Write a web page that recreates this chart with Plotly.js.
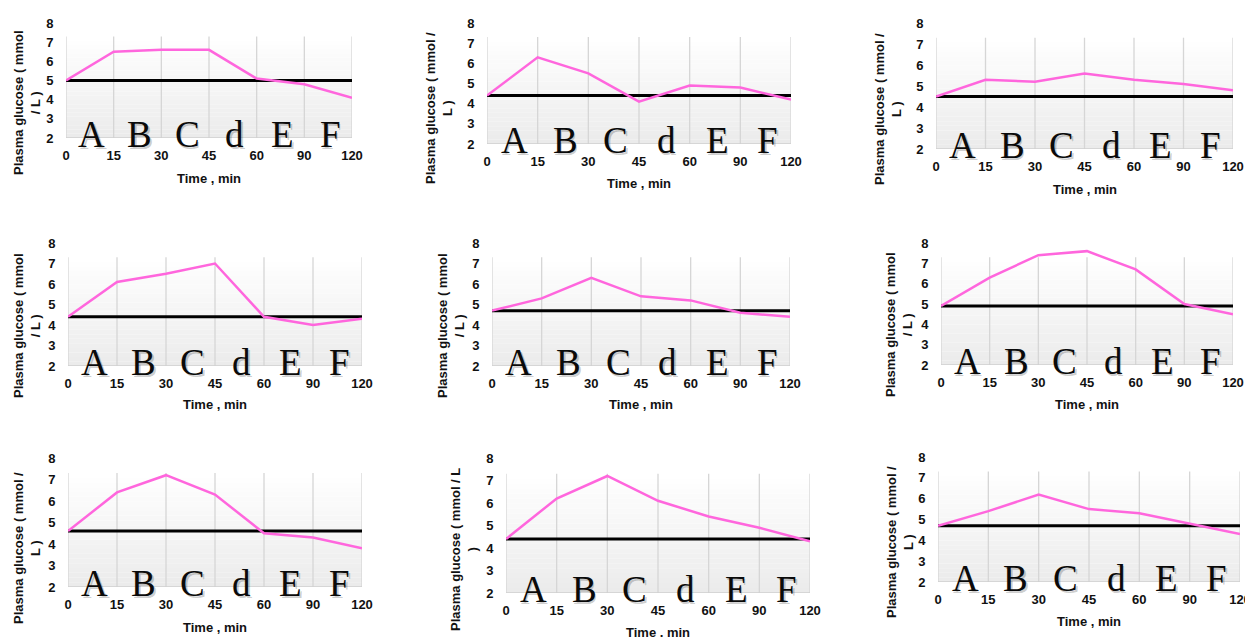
<!DOCTYPE html>
<html>
<head>
<meta charset="utf-8">
<script src="https://cdn.plot.ly/plotly-3.0.1.min.js"></script>
<style>html,body{margin:0;padding:0;background:#fff;}#chart{width:1245px;height:637px;}</style>
</head>
<body>
<div id="chart"></div>
<script>
// ---- data ----
const times = ['0', '15', '30', '45', '60', '90', '120'];
const letters = ['A', 'B', 'C', 'd', 'E', 'F'];
const glucose1 = [5.0, 6.5, 6.6, 6.6, 5.1, 4.8, 4.1];
const glucose2 = [4.4, 6.3, 5.5, 4.1, 4.9, 4.8, 4.2];
const glucose3 = [4.5, 5.3, 5.2, 5.6, 5.3, 5.1, 4.8];
const glucose4 = [4.4, 6.1, 6.5, 7.0, 4.4, 4.0, 4.3];
const glucose5 = [4.7, 5.3, 6.3, 5.4, 5.2, 4.6, 4.4];
const glucose6 = [4.9, 6.3, 7.4, 7.6, 6.7, 5.0, 4.5];
const glucose7 = [4.6, 6.4, 7.2, 6.3, 4.5, 4.3, 3.8];
const glucose8 = [4.4, 6.2, 7.2, 6.1, 5.4, 4.9, 4.3];
const glucose9 = [4.7, 5.4, 6.2, 5.5, 5.3, 4.8, 4.3];
const series = [glucose1, glucose2, glucose3, glucose4, glucose5, glucose6, glucose7, glucose8, glucose9];
const yTitles = [
  'Plasma glucose ( mmol<br>/ L )',
  'Plasma glucose ( mmol /<br>L )',
  'Plasma glucose ( mmol /<br>L )',
  'Plasma glucose ( mmol<br>/ L )',
  'Plasma glucose ( mmol<br>/ L )',
  'Plasma glucose ( mmol<br>/ L )',
  'Plasma glucose ( mmol /<br>L )',
  'Plasma glucose ( mmol / L<br>)',
  'Plasma glucose ( mmol /<br>L )'
];
const xTitle = 'Time , min';

// ---- layout geometry (pixels): left, right, top(y=8), bottom(y=2), yTitleX, yTitleY, xTitleY ----
const boxes = [
  [66, 352, 23, 138, 27, 103, 178],
  [487, 791, 23, 144, 439, 108, 183],
  [936, 1233, 23, 149, 888, 109, 189],
  [68, 362, 243, 366, 27, 326, 405],
  [492, 790, 243, 366, 451, 326, 405],
  [941, 1233, 243, 365, 899, 325, 405],
  [68, 362, 458, 587, 27, 548, 627],
  [506, 810, 458, 593, 464, 550, 632],
  [938, 1240, 457, 582, 900, 542, 621]
];
const W = 1245, H = 637;
const px = v => v / W;
const py = v => 1 - v / H;

const traces = [];
const shapes = [];
const annotations = [];
const layout = {
  width: W, height: H,
  margin: {l: 0, r: 0, t: 0, b: 0},
  paper_bgcolor: '#ffffff',
  plot_bgcolor: 'rgba(0,0,0,0)',
  showlegend: false,
  font: {family: 'Liberation Sans, Arial, sans-serif', color: '#000'}
};

const tickFont = {family: 'Liberation Sans, Arial, sans-serif', size: 13, color: '#111', weight: 'bold'};
const SHADE_TOP = 7.3;
const NB = 24;

series.forEach((vals, i) => {
  const n = i + 1;
  const xa = n === 1 ? 'xaxis' : 'xaxis' + n;
  const ya = n === 1 ? 'yaxis' : 'yaxis' + n;
  const xr = n === 1 ? 'x' : 'x' + n;
  const yr = n === 1 ? 'y' : 'y' + n;
  const [l, r, t, b, ytx, yty, xty] = boxes[i];

  layout[xa] = {
    type: 'category', domain: [px(l), px(r)], anchor: yr,
    range: [0, times.length - 1], showgrid: false, zeroline: false, showline: false,
    ticks: 'outside', ticklen: 5, tickcolor: 'rgba(0,0,0,0)', tickfont: tickFont,
    fixedrange: true
  };
  layout[ya] = {
    domain: [py(b), py(t)], anchor: xr, range: [2, 8], dtick: 1, tick0: 2,
    showgrid: false, zeroline: false, showline: false,
    ticks: 'outside', ticklen: 9, tickcolor: 'rgba(0,0,0,0)', tickfont: tickFont,
    fixedrange: true
  };

  // gradient-like shaded backdrop
  for (let k = 0; k < NB; k++) {
    const y0 = 2 + (SHADE_TOP - 2) * k / NB;
    const y1 = 2 + (SHADE_TOP - 2) * (k + 1) / NB;
    const c = Math.round(235 + 20 * (k + 0.5) / NB);
    shapes.push({type: 'rect', xref: xr, yref: yr, x0: 0, x1: times.length - 1, y0: y0, y1: y1,
      fillcolor: `rgb(${c},${c},${c})`, line: {width: 0}, layer: 'below'});
  }
  for (let k = 0; k < times.length; k++) {
    shapes.push({type: 'line', xref: xr, yref: yr, x0: k, x1: k, y0: 2, y1: SHADE_TOP,
      line: {color: '#d6d6d6', width: 1.3}, layer: 'below'});
  }
  shapes.push({type: 'line', xref: xr, yref: yr, x0: 0, x1: times.length - 1, y0: 2, y1: 2,
    line: {color: '#cfcfcf', width: 1.3}, layer: 'below'});

  // baseline (initial value) line
  traces.push({
    type: 'scatter', mode: 'lines', x: times, y: times.map(() => vals[0]),
    xaxis: xr, yaxis: yr, line: {color: '#000', width: 3}, hoverinfo: 'skip'
  });
  // glucose curve
  traces.push({
    type: 'scatter', mode: 'lines', x: times, y: vals,
    xaxis: xr, yaxis: yr, line: {color: '#ff66dd', width: 2.5}
  });

  // big letters
  letters.forEach((L, j) => {
    annotations.push({xref: xr, yref: yr, x: j + 0.5, y: 2, text: L, showarrow: false,
      xanchor: 'center', yanchor: 'middle', yshift: 2, xshift: 3.5,
      font: {family: 'Liberation Serif, Times New Roman, serif', size: 37, color: 'rgba(0,0,0,0.2)'}});
    annotations.push({xref: xr, yref: yr, x: j + 0.5, y: 2, text: L, showarrow: false,
      xanchor: 'center', yanchor: 'middle', yshift: 4, xshift: 2,
      font: {family: 'Liberation Serif, Times New Roman, serif', size: 37, color: '#0a0a0a'}});
  });

  // axis titles
  annotations.push({xref: 'paper', yref: 'paper', x: px((l + r) / 2), y: py(xty), text: xTitle,
    showarrow: false, xanchor: 'center', yanchor: 'middle',
    font: {family: 'Liberation Sans, Arial, sans-serif', size: 13, color: '#111', weight: 'bold'}});
  annotations.push({xref: 'paper', yref: 'paper', x: px(ytx), y: py(yty), text: yTitles[i],
    showarrow: false, xanchor: 'center', yanchor: 'middle', textangle: -90, align: 'center',
    font: {family: 'Liberation Sans, Arial, sans-serif', size: 13, color: '#111', weight: 'bold'}});
});

layout.shapes = shapes;
layout.annotations = annotations;

Plotly.newPlot('chart', traces, layout, {displayModeBar: false, staticPlot: true});
</script>
</body>
</html>
